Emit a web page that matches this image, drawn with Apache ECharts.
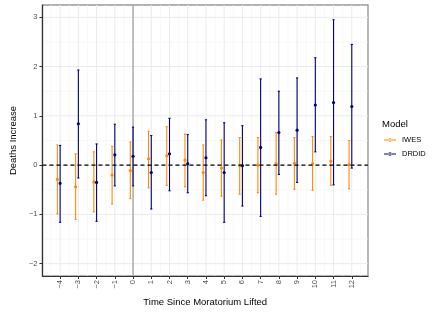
<!DOCTYPE html>
<html>
<head>
<meta charset="utf-8">
<script src="https://cdn.jsdelivr.net/npm/echarts@6/dist/echarts.min.js"></script>
<style>html,body{margin:0;padding:0;background:#fff;}#c{width:436px;height:312px;}</style>
</head>
<body>
<div id="c"></div>
<script>
// ---- data ----
const steps = [-4,-3,-2,-1,0,1,2,3,4,5,6,7,8,9,10,11,12];
const iwesEst = [-0.29,-0.44,-0.34,-0.20,-0.11,0.13,0.19,0.10,-0.15,-0.06,-0.01,0.00,0.03,0.04,0.03,0.08,0.01];
const iwesLo  = [-0.99,-1.10,-0.95,-0.79,-0.68,-0.46,-0.41,-0.44,-0.71,-0.63,-0.59,-0.56,-0.59,-0.49,-0.51,-0.41,-0.48];
const iwesHi  = [0.41,0.23,0.27,0.38,0.47,0.69,0.78,0.63,0.41,0.51,0.56,0.56,0.66,0.56,0.58,0.58,0.50];
const drdidEst = [-0.37,0.84,-0.35,0.21,0.18,-0.15,0.23,0.03,0.15,-0.15,-0.01,0.36,0.66,0.71,1.22,1.27,1.19];
const drdidLo  = [-1.16,-0.26,-1.14,-0.42,-0.42,-0.89,-0.52,-0.56,-0.62,-1.16,-0.83,-1.04,-0.19,-0.35,0.27,-0.40,-0.06];
const drdidHi  = [0.40,1.93,0.43,0.83,0.77,0.60,0.95,0.62,0.92,0.86,0.80,1.75,1.50,1.77,2.18,2.95,2.45];
const xTicks = [-4,-3,-2,-1,0,1,2,3,4,5,6,7,8,9,10,11,12];
const yTicks = [-2,-1,0,1,2,3];
const xMajorGrid = [-4,-3,-2,-1,0,1,2,3,4,5,6,7,8,9,10,11,12];
const xMinorGrid = [-4.5,-3.5,-2.5,-1.5,-0.5,0.5,1.5,2.5,3.5,4.5,5.5,6.5,7.5,8.5,9.5,10.5,11.5,12.5];
const yMajorGrid = [-2,-1,0,1,2,3];
const yMinorGrid = [-1.5,-0.5,0.5,1.5,2.5];
const zeroLine = [0];
const liftLine = [0];
const dodge = {IWES: -0.15, DRDID: 0};

const FONT = "'Liberation Sans', Arial, Helvetica, sans-serif";
const ORANGE = '#FF8C00';
const NAVY = '#000080';

function errData(est, lo, hi, off) {
  return steps.map((s, i) => [s + off, est[i], lo[i], hi[i]]);
}

function errRender(color) {
  return function (params, api) {
    const x = api.value(0);
    const pE = api.coord([x, api.value(1)]);
    const pL = api.coord([x, api.value(2)]);
    const pH = api.coord([x, api.value(3)]);
    const capL = api.coord([x - 0.06, 0])[0];
    const capR = api.coord([x + 0.06, 0])[0];
    const ls = {stroke: color, lineWidth: 1.1};
    return {
      type: 'group',
      children: [
        {type: 'line', shape: {x1: pL[0], y1: pL[1], x2: pH[0], y2: pH[1]}, style: ls},
        {type: 'line', shape: {x1: capL, y1: pL[1], x2: capR, y2: pL[1]}, style: ls},
        {type: 'line', shape: {x1: capL, y1: pH[1], x2: capR, y2: pH[1]}, style: ls},
        {type: 'circle', shape: {cx: pE[0], cy: pE[1], r: 1.6}, style: {fill: color}}
      ]
    };
  };
}

function vLines(color, width, dash) {
  return function (params, api) {
    const cs = params.coordSys;
    const x = api.coord([api.value(0), 0])[0];
    return {type: 'line', shape: {x1: x, y1: cs.y, x2: x, y2: cs.y + cs.height},
      style: {stroke: color, lineWidth: width, lineDash: dash || null}};
  };
}
function hLines(color, width, dash) {
  return function (params, api) {
    const cs = params.coordSys;
    const y = api.coord([0, api.value(0)])[1];
    return {type: 'line', shape: {x1: cs.x, y1: y, x2: cs.x + cs.width, y2: y},
      style: {stroke: color, lineWidth: width, lineDash: dash || null}};
  };
}
function lineSeries(vals, fn, z) {
  return {type: 'custom', silent: true, z: z, renderItem: fn,
    data: vals.map(v => [v]), encode: {x: [], y: []}, tooltip: {show: false}};
}

const legendIcon = 'path://M0,2.6H12V3.4H0Z M4.2,3A1.8,1.8 0 1 0 7.8,3A1.8,1.8 0 1 0 4.2,3Z';

const chart = echarts.init(document.getElementById('c'), null, {renderer: 'canvas'});
chart.setOption({
  animation: false,
  backgroundColor: '#fff',
  textStyle: {fontFamily: FONT},
  title: {
    text: 'Model', left: 382, top: 119, padding: 0,
    textStyle: {fontSize: 9.5, fontWeight: 'normal', color: '#000', fontFamily: FONT}
  },
  legend: {
    orient: 'vertical', left: 384, top: 135, padding: 0,
    itemWidth: 12, itemHeight: 4, itemGap: 4,
    textStyle: {fontSize: 7.5, color: '#000', fontFamily: FONT, lineHeight: 10, padding: [0, 0, 0, 1]},
    data: [{name: 'IWES', icon: legendIcon}, {name: 'DRDID', icon: legendIcon}]
  },
  grid: {
    left: 35, right: 68, top: 5, bottom: 36,
    show: true, borderColor: '#999', borderWidth: 1.4, backgroundColor: '#fff'
  },
  xAxis: {
    type: 'value', min: -4.97, max: 12.89,
    name: 'Time Since Moratorium Lifted', nameLocation: 'middle', nameGap: 21,
    nameTextStyle: {fontSize: 9.5, color: '#000', fontFamily: FONT},
    axisLine: {show: true, onZero: false, lineStyle: {color: '#333', width: 1.2}},
    axisTick: {show: true, length: 3, customValues: xTicks, lineStyle: {color: '#333'}},
    axisLabel: {
      customValues: xTicks, rotate: 90, margin: 4, fontSize: 7.5, color: '#4d4d4d', fontFamily: FONT,
      formatter: v => String(v).replace('-', '\u2212')
    },
    splitLine: {show: false}
  },
  yAxis: {
    type: 'value', min: -2.25, max: 3.25,
    name: 'Deaths Increase', nameLocation: 'middle', nameGap: 21,
    nameTextStyle: {fontSize: 9.5, color: '#000', fontFamily: FONT},
    axisLine: {show: true, onZero: false, lineStyle: {color: '#333', width: 1.2}},
    axisTick: {show: true, length: 3, customValues: yTicks, lineStyle: {color: '#333'}},
    axisLabel: {
      customValues: yTicks, margin: 5, fontSize: 7.5, color: '#4d4d4d', fontFamily: FONT,
      formatter: v => String(v).replace('-', '\u2212')
    },
    splitLine: {show: false}
  },
  series: [
    lineSeries(xMinorGrid, vLines('#f3f3f3', 0.6), 0),
    lineSeries(yMinorGrid, hLines('#f3f3f3', 0.6), 0),
    lineSeries(xMajorGrid, vLines('#ebebeb', 1), 0),
    lineSeries(yMajorGrid, hLines('#ebebeb', 1), 0),
    lineSeries(liftLine, vLines('#9a9a9a', 1.2), 1),
    {
      name: 'IWES', type: 'custom', z: 3, itemStyle: {color: ORANGE},
      renderItem: errRender(ORANGE),
      encode: {x: 0, y: [1, 2, 3]},
      data: errData(iwesEst, iwesLo, iwesHi, dodge.IWES)
    },
    {
      name: 'DRDID', type: 'custom', z: 4, itemStyle: {color: NAVY},
      renderItem: errRender(NAVY),
      encode: {x: 0, y: [1, 2, 3]},
      data: errData(drdidEst, drdidLo, drdidHi, dodge.DRDID)
    },
    lineSeries(zeroLine, hLines('#000', 1.2, [4, 3]), 5)
  ]
});
</script>
</body>
</html>
